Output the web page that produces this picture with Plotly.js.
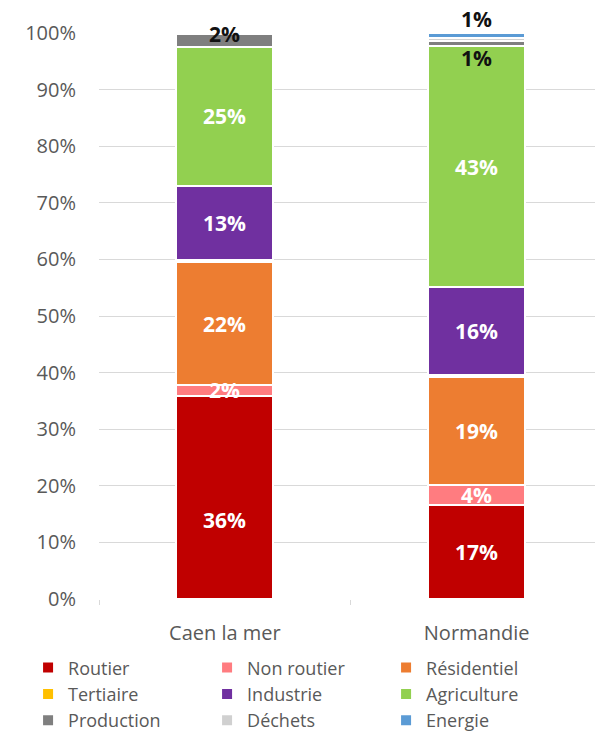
<!DOCTYPE html>
<html>
<head>
<meta charset="utf-8">
<script src="https://cdn.plot.ly/plotly-3.0.1.min.js"></script>
<style>html,body{margin:0;padding:0;background:#fff;}#chart{width:595px;height:741px;}</style>
</head>
<body>
<div id="chart"></div>
<script>
// ---- data (percent of emissions) ----
const categories = ["Caen la mer", "Normandie"];
const sectors = ["Routier", "Non routier", "Résidentiel", "Tertiaire", "Industrie", "Agriculture", "Production", "Déchets", "Energie"];
const routier     = [35.9, 16.6];
const nonRoutier  = [1.9, 3.6];
const residentiel = [21.7, 19.0];
const tertiaire   = [0.4, 0.4];
const industrie   = [13.1, 15.5];
const agriculture = [24.6, 42.6];
const production  = [2.2, 0.9];
const dechets     = [0.1, 0.5];
const energie     = [0.1, 0.9];
const yTicks = [0, 10, 20, 30, 40, 50, 60, 70, 80, 90, 100];
// which segments carry a value label
const labelShown = {
  "Routier": [true, true], "Non routier": [true, true], "Résidentiel": [true, true],
  "Tertiaire": [false, false], "Industrie": [true, true], "Agriculture": [true, true],
  "Production": [true, true], "Déchets": [false, false], "Energie": [false, true]
};

// ---- styling ----
const colors = {
  "Routier": "#C00000", "Non routier": "#FF7C80", "Résidentiel": "#ED7D31",
  "Tertiaire": "#FFC000", "Industrie": "#7030A0", "Agriculture": "#92D050",
  "Production": "#7F7F7F", "Déchets": "#D0D0D0", "Energie": "#5B9BD5"
};
const darkLabel = {"Production": true, "Energie": true};
const labelShift = {"Routier|0": -23, "Production|0": 6, "Production|1": -15, "Energie|1": 17};

const series = [routier, nonRoutier, residentiel, tertiaire, industrie, agriculture, production, dechets, energie];
const FONT = "Open Sans, Calibri, Arial, sans-serif";

const traces = sectors.map((s, i) => ({
  type: "bar",
  name: s,
  x: categories,
  y: series[i],
  width: 0.385,
  marker: {color: colors[s], line: {color: "#FFFFFF", width: 2}},
  hoverinfo: "skip"
}));

const annotations = [];
categories.forEach((c, j) => {
  let base = 0;
  sectors.forEach((s, i) => {
    const v = series[i][j];
    if (labelShown[s][j]) {
      annotations.push({
        x: c, y: base + v / 2, xref: "x", yref: "y",
        text: "<b>" + Math.round(v) + "%</b>",
        showarrow: false,
        yshift: labelShift[s + "|" + j] || 0,
        font: {family: FONT, size: 21, color: darkLabel[s] ? "#111111" : "#FFFFFF"}
      });
    }
    base += v;
  });
});

const layout = {
  width: 595, height: 741,
  margin: {l: 99, r: 0, t: 33, b: 142},
  paper_bgcolor: "#FFFFFF", plot_bgcolor: "#FFFFFF",
  barmode: "stack",
  showlegend: true,
  font: {family: FONT, color: "#595959", size: 18},
  xaxis: {
    type: "category", range: [-0.5, 1.47],
    showgrid: false, zeroline: false, showline: false,
    ticks: "outside", tickson: "boundaries", ticklen: 5, tickcolor: "#D9D9D9",
    tickfont: {family: FONT, size: 20, color: "#595959"},
    ticklabelstandoff: 20
  },
  yaxis: {
    range: [0, 100], tickvals: yTicks, ticktext: yTicks.map(v => v + "%"),
    showgrid: true, gridcolor: "#D9D9D9", gridwidth: 1,
    zeroline: false, showline: false, ticks: "",
    tickfont: {family: FONT, size: 20, color: "#595959"},
    ticklabelstandoff: 22
  },
  legend: {
    orientation: "h", traceorder: "normal",
    xref: "paper", yref: "paper",
    x: -0.143, xanchor: "left", y: -0.089, yanchor: "top",
    entrywidth: 134, entrywidthmode: "pixels",
    font: {family: FONT, size: 18, color: "#595959"},
    itemclick: false, itemdoubleclick: false
  },
  annotations: annotations
};

Plotly.newPlot("chart", traces, layout, {displayModeBar: false, staticPlot: true});
</script>
</body>
</html>
